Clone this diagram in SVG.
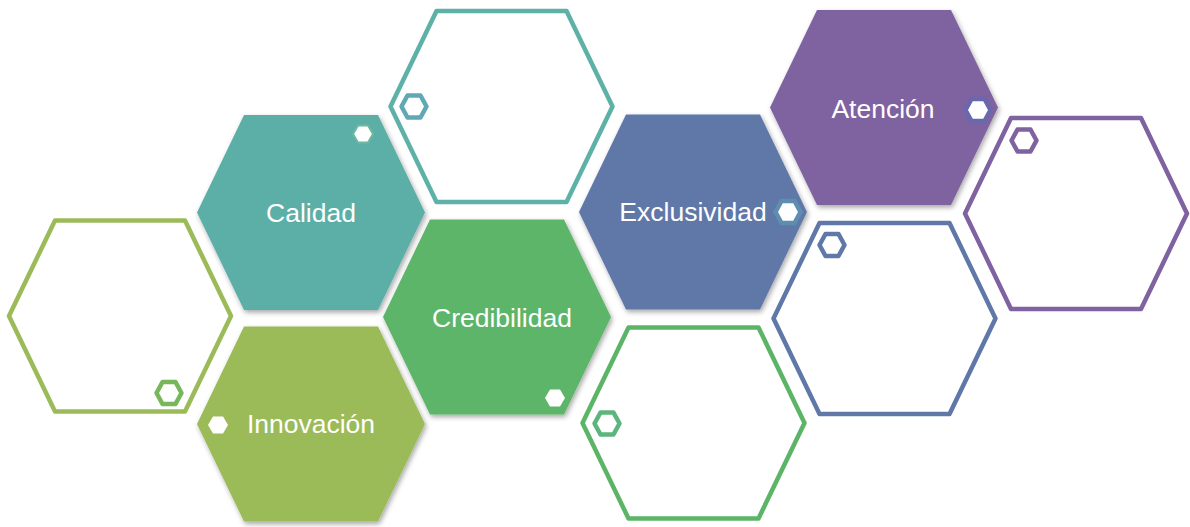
<svg xmlns="http://www.w3.org/2000/svg" xmlns:xlink="http://www.w3.org/1999/xlink" width="1190" height="527" viewBox="0 0 1190 527">
  <style>
    .label { font-family: "Liberation Sans", Arial, sans-serif; font-size: 26.5px; fill: #ffffff; text-anchor: middle; }
    .ring { fill: none; stroke-width: 4.5; stroke-linejoin: round; }
    .badge { fill: none; stroke-width: 4.5; stroke-linejoin: round; }
    .dot { fill: #ffffff; }
  </style>
  <defs>
    <filter id="shadow" x="-20%" y="-20%" width="140%" height="140%">
      <feDropShadow dx="1.5" dy="2.5" stdDeviation="2.5" flood-color="#000000" flood-opacity="0.35"/>
    </filter>
    <!-- solid hexagon tile -->
    <polygon id="tile" points="-114,0 -67,-97.5 67,-97.5 114,0 67,97.5 -67,97.5" stroke-linejoin="round"/>
    <!-- outlined hexagon tile (stroke centre line) -->
    <polygon id="frame" points="-111,0 -65,-95.5 65,-95.5 111,0 65,95.5 -65,95.5"/>
    <!-- small hexagon badge (stroke centre line) -->
    <polygon id="badge" points="-12.5,0 -6.5,-11 6.5,-11 12.5,0 6.5,11 -6.5,11"/>
    <!-- small solid hexagon dot -->
    <polygon id="dot" points="-10,0 -5,-8.5 5,-8.5 10,0 5,8.5 -5,8.5"/>
  </defs>

  <rect width="1190" height="527" fill="#ffffff"/>

  <!-- outlined tiles -->
  <g id="frame-left">
    <use xlink:href="#frame" href="#frame" x="120" y="316" class="ring" stroke="#9BBB59"/>
    <use xlink:href="#badge" href="#badge" x="169" y="393" class="badge" stroke="#77B75A"/>
  </g>
  <g id="frame-top">
    <use xlink:href="#frame" href="#frame" x="501.5" y="106.5" class="ring" stroke="#5DB1A6"/>
    <use xlink:href="#badge" href="#badge" x="414" y="106.5" class="badge" stroke="#5FA8B4"/>
  </g>
  <g id="frame-green">
    <use xlink:href="#frame" href="#frame" x="693.5" y="423" class="ring" stroke="#5CB567"/>
    <use xlink:href="#badge" href="#badge" x="607" y="423.5" class="badge" stroke="#5DB57E"/>
  </g>
  <g id="frame-blue">
    <use xlink:href="#frame" href="#frame" x="884.5" y="318.5" class="ring" stroke="#5F78A8"/>
    <use xlink:href="#badge" href="#badge" x="832" y="245" class="badge" stroke="#5F78A8"/>
  </g>
  <g id="frame-purple">
    <use xlink:href="#frame" href="#frame" x="1076" y="213.5" class="ring" stroke="#7F62A0"/>
    <use xlink:href="#badge" href="#badge" x="1024" y="140.5" class="badge" stroke="#7F62A0"/>
  </g>

  <!-- solid tiles -->
  <g id="calidad">
    <use xlink:href="#tile" href="#tile" x="311" y="212.5" fill="#5BAFA6" filter="url(#shadow)"/>
    <use xlink:href="#dot" href="#dot" x="363" y="134" class="dot" stroke="#6CB8A0" stroke-width="2"/>
    <text class="label" x="311" y="221.5">Calidad</text>
  </g>
  <g id="innovacion">
    <use xlink:href="#tile" href="#tile" x="311" y="424" fill="#9BBB59" filter="url(#shadow)"/>
    <use xlink:href="#dot" href="#dot" x="218" y="425" class="dot"/>
    <text class="label" x="311" y="433">Innovación</text>
  </g>
  <g id="credibilidad">
    <use xlink:href="#tile" href="#tile" x="497" y="317" fill="#5CB567" filter="url(#shadow)"/>
    <use xlink:href="#dot" href="#dot" x="555" y="398" class="dot"/>
    <text class="label" x="502" y="327">Credibilidad</text>
  </g>
  <g id="exclusividad">
    <use xlink:href="#tile" href="#tile" x="693" y="212" fill="#5F78A8" filter="url(#shadow)"/>
    <text class="label" x="693" y="221">Exclusividad</text>
    <use xlink:href="#badge" href="#badge" x="788" y="212" fill="#ffffff" stroke="#5F8DAF" stroke-width="4.5"/>
  </g>
  <g id="atencion">
    <use xlink:href="#tile" href="#tile" x="884" y="107.5" fill="#7F62A0" filter="url(#shadow)"/>
    <text class="label" x="883" y="117.5">Atención</text>
    <use xlink:href="#badge" href="#badge" x="978" y="110" fill="#ffffff" stroke="#6A68AC" stroke-width="4.5"/>
  </g>
</svg>
